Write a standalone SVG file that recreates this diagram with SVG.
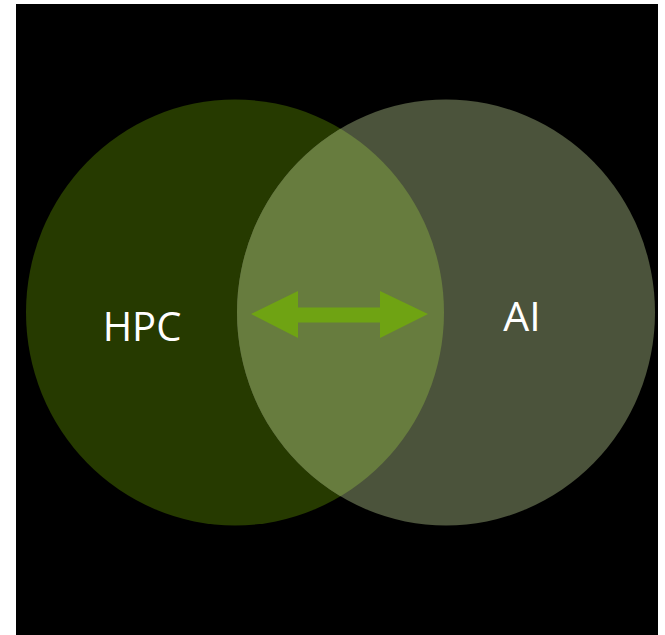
<svg xmlns="http://www.w3.org/2000/svg" width="665" height="635" viewBox="0 0 665 635">
  <style>
    .label { font-family: "Open Sans", "DejaVu Sans", sans-serif; fill: #ffffff; }
  </style>
  <defs>
    <clipPath id="leftClip">
      <ellipse cx="235" cy="312.5" rx="209" ry="213"/>
    </clipPath>
  </defs>
  <rect x="0" y="0" width="665" height="635" fill="#ffffff"/>
  <rect x="16" y="4" width="642" height="631" fill="#000000"/>
  <g id="hpc">
    <ellipse cx="235" cy="312.5" rx="209" ry="213" fill="#263a00"/>
  </g>
  <g id="ai">
    <ellipse cx="446" cy="312.5" rx="209" ry="213" fill="#4b533b"/>
  </g>
  <g id="overlap">
    <ellipse cx="446" cy="312.5" rx="209" ry="213" fill="#677c3e" clip-path="url(#leftClip)"/>
  </g>
  <g id="connectors">
    <polygon points="251,314 298,291 298,307.5 380,307.5 380,291 428,314 380,338 380,322.5 298,322.5 298,338" fill="#6fa313"/>
  </g>
  <g id="labels">
    <text class="label" x="142" y="341" font-size="40" text-anchor="middle">HPC</text>
    <text class="label" x="522" y="331" font-size="41" text-anchor="middle">AI</text>
  </g>
</svg>
